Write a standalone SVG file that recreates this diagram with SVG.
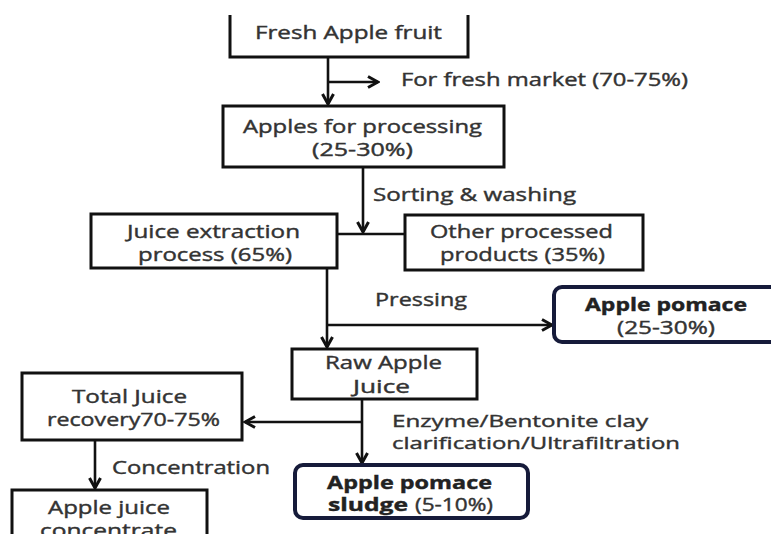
<svg xmlns="http://www.w3.org/2000/svg" width="771" height="534" viewBox="0 0 771 534">
<defs>
<marker id="arr" viewBox="0 0 14 14" refX="12" refY="7" markerWidth="14" markerHeight="14" markerUnits="userSpaceOnUse" orient="auto">
<path d="M2,1.5 L12,7 L2,12.5" fill="none" stroke="#111" stroke-width="3"/>
</marker>
<style>
.box{fill:#fff;stroke:#111;stroke-width:3}
.rbox{fill:#fff;stroke:#161b3a;stroke-width:4}
.t{font-family:"Open Sans","Liberation Sans",sans-serif;font-size:18px;fill:#333;stroke:#333;stroke-width:0.4}
.s{font-size:17px}
.b{font-weight:bold;fill:#222;stroke:#222}
.c{fill:none;stroke:#111;stroke-width:2.6}
</style>
</defs>
<rect width="771" height="534" fill="#fff"/>
<g id="connectors">
<path class="c" d="M328,57 V104" marker-end="url(#arr)"/>
<path class="c" d="M328,82 H378" marker-end="url(#arr)"/>
<path class="c" d="M363,167 V232" marker-end="url(#arr)"/>
<path class="c" d="M337,234 H405"/>
<path class="c" d="M327,268 V347" marker-end="url(#arr)"/>
<path class="c" d="M327,325 H552" marker-end="url(#arr)"/>
<path class="c" d="M362,399 V463" marker-end="url(#arr)"/>
<path class="c" d="M362,422 H245" marker-end="url(#arr)"/>
<path class="c" d="M95,440 V488" marker-end="url(#arr)"/>
</g>
<g id="labels">
<text class="t" x="401" y="86" textLength="287" lengthAdjust="spacingAndGlyphs">For fresh market (70-75%)</text>
<text class="t" x="373" y="201" textLength="203" lengthAdjust="spacingAndGlyphs">Sorting &amp; washing</text>
<text class="t" x="375" y="306" textLength="92" lengthAdjust="spacingAndGlyphs">Pressing</text>
<text class="t s" x="392" y="427" textLength="256" lengthAdjust="spacingAndGlyphs">Enzyme/Bentonite clay</text>
<text class="t s" x="392" y="449" textLength="288" lengthAdjust="spacingAndGlyphs">clarification/Ultrafiltration</text>
<text class="t" x="112" y="474" textLength="158" lengthAdjust="spacingAndGlyphs">Concentration</text>
</g>
<g id="fresh">
<path class="box" d="M230,15 V57 H468 V15"/>
<text class="t" x="255" y="39" textLength="187" lengthAdjust="spacingAndGlyphs">Fresh Apple fruit</text>
</g>
<g id="processing">
<rect class="box" x="223" y="106" width="281" height="61"/>
<text class="t" x="243" y="133" textLength="239" lengthAdjust="spacingAndGlyphs">Apples for processing</text>
<text class="t" x="312" y="156" textLength="101" lengthAdjust="spacingAndGlyphs">(25-30%)</text>
</g>
<g id="juice-extraction">
<rect class="box" x="91" y="214" width="246" height="54"/>
<text class="t" x="127" y="238" textLength="173" lengthAdjust="spacingAndGlyphs">Juice extraction</text>
<text class="t" x="138" y="261" textLength="154" lengthAdjust="spacingAndGlyphs">process (65%)</text>
</g>
<g id="other">
<rect class="box" x="405" y="215" width="238" height="55"/>
<text class="t" x="430" y="238" textLength="183" lengthAdjust="spacingAndGlyphs">Other processed</text>
<text class="t" x="440" y="261" textLength="165" lengthAdjust="spacingAndGlyphs">products (35%)</text>
</g>
<g id="pomace">
<rect class="rbox" x="554" y="287" width="240" height="55" rx="8"/>
<text class="t b" x="585" y="311" textLength="162" lengthAdjust="spacingAndGlyphs">Apple pomace</text>
<text class="t" x="617" y="334" textLength="98" lengthAdjust="spacingAndGlyphs">(25-30%)</text>
</g>
<g id="raw">
<rect class="box" x="292" y="349" width="185" height="50"/>
<text class="t" x="325" y="369" textLength="117" lengthAdjust="spacingAndGlyphs">Raw Apple</text>
<text class="t" x="353" y="393" textLength="57" lengthAdjust="spacingAndGlyphs">Juice</text>
</g>
<g id="total">
<rect class="box" x="22" y="373" width="220" height="67"/>
<text class="t" x="72" y="403" textLength="115" lengthAdjust="spacingAndGlyphs">Total Juice</text>
<text class="t" x="47" y="426" textLength="173" lengthAdjust="spacingAndGlyphs">recovery70-75%</text>
</g>
<g id="sludge">
<rect class="rbox" x="295" y="465" width="233" height="53" rx="8"/>
<text class="t b" x="327" y="489" textLength="165" lengthAdjust="spacingAndGlyphs">Apple pomace</text>
<text class="t b" x="328" y="511" textLength="80" lengthAdjust="spacingAndGlyphs">sludge</text>
<text class="t" x="415" y="511" textLength="78" lengthAdjust="spacingAndGlyphs">(5-10%)</text>
</g>
<g id="concentrate">
<rect class="box" x="12" y="490" width="195" height="60"/>
<text class="t" x="48" y="514" textLength="122" lengthAdjust="spacingAndGlyphs">Apple juice</text>
<text class="t" x="40" y="537" textLength="137" lengthAdjust="spacingAndGlyphs">concentrate</text>
</g>
</svg>
